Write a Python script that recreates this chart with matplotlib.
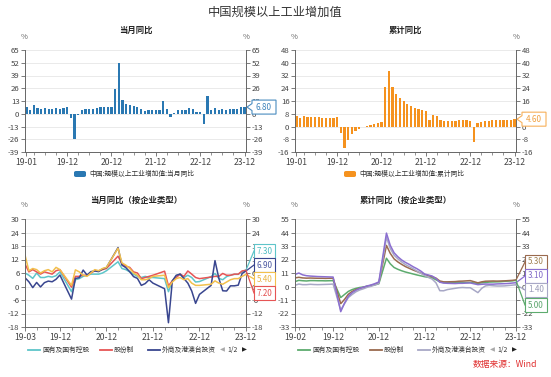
import numpy as np
import pandas as pd
import matplotlib
matplotlib.use('Agg')
import matplotlib.pyplot as plt
from matplotlib.patches import Polygon, Rectangle, FancyBboxPatch
from matplotlib.lines import Line2D

plt.rcParams['font.family'] = ['Noto Sans CJK SC', 'DejaVu Sans']
plt.rcParams['axes.unicode_minus'] = False

W, H = 551, 377

# ---- data: total industry, every month 2019-01 .. 2023-12 ----
bar_months = pd.date_range('2019-01-01', '2023-12-01', freq='MS')
monthly_yoy = [6.5, 3.4, 8.5, 5.4, 5.0, 6.3, 4.8, 4.4, 5.8, 4.7, 6.2, 6.9,
               -4.3, -25.9, -1.1, 3.9, 4.4, 4.8, 4.8, 5.6, 6.9, 6.9, 7.0, 7.3,
               25.0, 52.0, 14.1, 9.8, 8.8, 8.3, 6.4, 5.3, 3.1, 3.5, 3.8, 4.3,
               3.8, 12.8, 5.0, -2.9, 0.7, 3.9, 3.8, 4.2, 6.3, 5.0, 2.2, 1.3,
               -10.0, 18.0, 3.9, 5.6, 3.5, 4.4, 3.7, 4.5, 4.5, 4.6, 6.6, 6.8]
cum_yoy = [6.5, 5.3, 6.5, 6.2, 6.0, 6.0, 5.8, 5.6, 5.6, 5.6, 5.6, 5.7,
           -4.3, -13.5, -8.4, -4.9, -2.8, -1.3, -0.4, 0.4, 1.2, 1.8, 2.3, 2.8,
           25.0, 35.1, 24.5, 20.3, 17.8, 15.9, 14.4, 13.1, 11.8, 10.9, 10.1, 9.6,
           3.8, 7.5, 6.5, 4.0, 3.3, 3.4, 3.5, 3.6, 3.9, 4.0, 3.8, 3.6,
           -10.0, 2.4, 3.0, 3.6, 3.6, 3.8, 3.8, 3.9, 4.0, 4.1, 4.3, 4.6]

# ---- data: by enterprise type, monthly (Mar..Dec each year) ----
type_months = [f"{y}-{m:02d}" for y in range(2019, 2024) for m in range(3, 13)]
soe_m = [6.0, 5.0, 3.6, 6.0, 4.0, 4.0, 4.5, 4.2, 4.8, 6.5,
         -2.3, 3.0, 3.5, 4.5, 5.0, 5.5, 5.5, 5.5, 6.0, 7.0,
         11.0, 8.0, 7.5, 6.5, 5.5, 4.5, 4.0, 4.5, 4.0, 4.0,
         3.5, -2.3, 2.5, 4.5, 5.5, 4.0, 5.0, 4.0, 2.0, 2.2,
         4.4, 5.8, 3.6, 3.0, 4.4, 5.0, 5.4, 5.4, 6.6, 7.3]
joint_m = [10.0, 6.5, 7.5, 6.5, 5.5, 6.5, 6.0, 5.5, 7.0, 7.5,
           -0.3, 4.5, 4.5, 5.0, 5.0, 6.0, 7.0, 7.0, 7.5, 8.0,
           13.5, 10.0, 9.0, 8.5, 6.5, 6.0, 3.5, 4.0, 4.5, 5.0,
           6.8, 0.3, 2.5, 4.0, 5.5, 4.5, 6.9, 5.5, 4.0, 3.5,
           4.2, 4.5, 4.5, 5.8, 5.0, 5.0, 5.5, 5.5, 6.9, 7.2]
foreign_m = [3.9, 2.1, -0.5, 1.8, -0.2, 1.7, 2.4, 2.1, 3.2, 5.1,
             -5.6, 3.6, 3.9, 7.3, 5.1, 6.6, 6.9, 6.6, 7.8, 8.4,
             17.3, 9.5, 8.4, 6.6, 4.4, 3.6, 0.5, 1.3, 3.0, 1.5,
             -1.0, -16.1, 2.5, 5.0, 5.5, 3.5, 1.5, -2.0, -7.5, -3.5,
             0.5, 11.5, 3.6, -1.9, -2.0, 0.3, 0.3, 0.6, 5.8, 6.9]
private_m = [14.0, 7.0, 8.0, 7.5, 6.0, 7.0, 7.5, 6.5, 8.5, 7.5,
             0.5, 7.4, 6.5, 5.0, 4.5, 6.0, 7.5, 7.0, 8.0, 8.5,
             17.0, 10.5, 9.5, 8.0, 6.0, 5.0, 3.0, 3.0, 3.5, 4.5,
             5.0, -0.5, 2.0, 3.5, 4.0, 3.0, 3.5, 1.5, 0.5, 0.5,
             1.0, 2.5, 1.5, 1.0, 2.0, 3.0, 3.5, 3.5, 4.5, 5.4]

# ---- data: by enterprise type, cumulative (Feb..Dec each year) ----
cum_months = [f"{y}-{m:02d}" for y in range(2019, 2024) for m in range(2, 13)]
soe_c = [4.0, 5.0, 4.7, 4.5, 4.8, 4.8, 4.7, 4.7, 4.6, 4.7, 4.8,
         -9.0, -6.5, -4.0, -2.5, -1.5, -0.8, -0.4, 0.3, 0.8, 1.4, 2.2,
         23.0, 18.5, 15.5, 14.0, 12.8, 11.8, 11.0, 10.2, 9.4, 8.7, 8.0,
         7.0, 5.5, 3.8, 3.2, 3.2, 3.2, 3.2, 3.4, 3.3, 3.2, 3.3,
         2.5, 3.0, 3.3, 3.6, 3.7, 3.8, 3.9, 4.2, 4.4, 4.6, 5.0]
joint_c = [7.0, 7.5, 7.0, 6.8, 6.9, 6.8, 6.7, 6.7, 6.6, 6.7, 6.8,
           -14.0, -10.5, -6.3, -4.0, -2.5, -1.5, -0.7, 0.2, 0.9, 1.7, 3.0,
           33.5, 27.0, 22.5, 20.0, 18.0, 16.2, 14.8, 13.4, 12.2, 11.0, 9.8,
           8.0, 6.8, 4.5, 3.8, 3.8, 3.9, 4.0, 4.3, 4.4, 4.6, 4.8,
           3.0, 3.8, 4.3, 4.4, 4.5, 4.4, 4.5, 4.6, 4.8, 5.0, 5.3]
foreign_c = [1.0, 2.0, 1.5, 1.5, 1.8, 1.6, 1.5, 1.6, 1.7, 1.8, 2.0,
             -19.0, -14.0, -9.0, -6.5, -4.3, -2.8, -1.8, -0.6, 0.2, 1.3, 2.4,
             40.0, 31.0, 25.5, 22.5, 20.0, 17.8, 16.2, 14.5, 12.6, 10.8, 8.9,
             6.0, 3.0, -3.4, -3.5, -2.5, -2.0, -1.5, -1.0, -0.8, -1.0, -1.0,
             -5.0, -1.5, 0.5, 0.9, 0.6, 0.4, 0.4, 0.5, 0.8, 1.1, 1.4]
private_c = [9.8, 11.0, 9.5, 8.8, 8.5, 8.3, 8.1, 8.0, 7.9, 7.8, 7.7,
             -20.5, -13.5, -8.0, -5.0, -3.0, -1.5, -0.5, 0.5, 1.3, 2.4, 3.7,
             43.5, 33.5, 27.5, 24.2, 21.6, 19.6, 18.0, 16.1, 14.5, 12.6, 10.2,
             8.5, 6.5, 3.5, 2.8, 2.6, 2.5, 2.4, 2.6, 2.6, 2.8, 2.9,
             1.5, 1.8, 2.0, 1.9, 1.9, 2.1, 2.2, 2.3, 2.5, 2.8, 3.1]

type_names = ['国有及国有控股', '股份制', '外商及港澳台投资', '私营企业']


def month_index(labels, start):
    s = pd.Timestamp(start)
    return np.array([(pd.Timestamp(m).year - s.year) * 12 + pd.Timestamp(m).month - s.month
                     for m in labels])


fig = plt.figure(figsize=(W / 100, H / 100), dpi=100)


def fx(x):
    return x / W


def fy(y):
    return 1 - y / H


def make_ax(x0, y0, x1, y1):
    return fig.add_axes([fx(x0), fy(y1), (x1 - x0) / W, (y1 - y0) / H])


def style(ax, ylim, ystep, xlim, xticks, xlabels, minor):
    ax.set_xlim(*xlim)
    ax.set_ylim(*ylim)
    ax.set_yticks(np.arange(ylim[0], ylim[1] + 1, ystep))
    ax.set_xticks(xticks)
    ax.set_xticklabels(xlabels)
    ax.set_xticks(minor, minor=True)
    ax.tick_params(axis='y', left=True, right=True, labelleft=True, labelright=True,
                   direction='out', length=3, width=0.6, color='#666',
                   labelcolor='#444', labelsize=5.6, pad=1)
    ax.tick_params(axis='x', which='major', length=3, width=0.6, color='#666',
                   labelcolor='#444', labelsize=6.2, pad=1)
    ax.tick_params(axis='x', which='minor', length=2, width=0.5, color='#666')
    ax.grid(axis='y', color='#e6e6e6', lw=0.6)
    ax.set_axisbelow(True)
    ax.spines['top'].set_visible(False)
    for s in ['left', 'right', 'bottom']:
        ax.spines[s].set_color('#666')
        ax.spines[s].set_linewidth(0.7)


def pct_marks(x0, x1, y):
    fig.text(fx(x0), fy(y), '%', fontsize=5.5, color='#666', ha='center', va='center')
    fig.text(fx(x1), fy(y), '%', fontsize=5.5, color='#666', ha='center', va='center')


def to_px(ax, x, y):
    dx, dy = ax.transData.transform((x, y))
    return dx, H - dy


def tag(ax, xlast, value, x0, color, tcolor):
    _, yc = to_px(ax, xlast, value)
    pts = [(x0, yc), (x0 + 5, yc - 3.5), (x0 + 5, yc - 7), (x0 + 29, yc - 7),
           (x0 + 29, yc + 7), (x0 + 5, yc + 7), (x0 + 5, yc + 3.5)]
    fig.add_artist(Polygon([(fx(a), fy(b)) for a, b in pts], closed=True,
                           transform=fig.transFigure, fc='white', ec=color, lw=0.8))
    fig.text(fx(x0 + 17), fy(yc), f'{value:.2f}', fontsize=5.8, color=tcolor,
             ha='center', va='center')


def end_boxes(ax, series, xlast, bx0, bx1, centers):
    for (vals, col, tcol), yc in zip(series, centers):
        ex, ey = to_px(ax, xlast, vals[-1])
        fig.add_artist(Line2D([fx(ex), fx(bx0)], [fy(ey), fy(yc)],
                              transform=fig.transFigure, color=col, lw=0.9))
        fig.add_artist(Rectangle((fx(bx0), fy(yc + 7)), (bx1 - bx0) / W, 14 / H,
                                 transform=fig.transFigure, fc='white', ec=col, lw=0.8))
        fig.text(fx((bx0 + bx1) / 2), fy(yc), f'{vals[-1]:.2f}', fontsize=5.8,
                 color=tcol, ha='center', va='center')


# ---- titles ----
fig.text(0.5, fy(12), '中国规模以上工业增加值', fontsize=8.8, color='#333',
         ha='center', va='center')
sub = dict(fontsize=6, color='#222', ha='center', va='center', fontweight='bold')
fig.text(fx(136), fy(30), '当月同比', **sub)
fig.text(fx(406), fy(30), '累计同比', **sub)
fig.text(fx(136), fy(200), '当月同比（按企业类型）', **sub)
fig.text(fx(406), fy(200), '累计同比（按企业类型）', **sub)

# ---- top-left: monthly bars ----
xi = np.arange(len(bar_months))
top_ticks = [0, 11, 23, 35, 47, 59]
top_labels = ['19-01', '19-12', '20-12', '21-12', '22-12', '23-12']
ax1 = make_ax(25, 50, 246, 152)
ax1.bar(xi, monthly_yoy, width=0.62, color='#2a78b2')
style(ax1, (-39, 65), 13, (-0.4, 59.4), top_ticks, top_labels, np.arange(2, 60, 3))
pct_marks(24, 246, 37)

ax2 = make_ax(295, 50, 516, 152)
ax2.bar(xi, cum_yoy, width=0.62, color='#f5921e')
style(ax2, (-16, 48), 8, (-0.4, 59.4), top_ticks, top_labels, np.arange(2, 60, 3))
pct_marks(294, 516, 37)

# ---- bottom-left: monthly by type ----
bl_x = month_index(type_months, '2019-03')
ax3 = make_ax(25, 219, 246, 327)
bl_cols = ['#5ec5c9', '#e65555', '#39468f', '#f2c04d']
for vals, col in zip([soe_m, joint_m, foreign_m, private_m], bl_cols):
    ax3.plot(bl_x, vals, color=col, lw=1.1)
style(ax3, (-18, 30), 6, (0, 57), [0, 9, 21, 33, 45, 57],
      ['19-03', '19-12', '20-12', '21-12', '22-12', '23-12'], np.arange(0, 58, 3))
pct_marks(24, 246, 205)

# ---- bottom-right: cumulative by type ----
br_x = month_index(cum_months, '2019-02')
ax4 = make_ax(295, 219, 516, 327)
br_cols = ['#5dab6e', '#9a6a4e', '#a8a8c6', '#8b6fd0']
for vals, col in zip([soe_c, joint_c, foreign_c, private_c], br_cols):
    ax4.plot(br_x, vals, color=col, lw=1.1)
style(ax4, (-33, 55), 11, (0, 58), [0, 10, 22, 34, 46, 58],
      ['19-02', '19-12', '20-12', '21-12', '22-12', '23-12'], np.arange(1, 59, 3))
pct_marks(294, 516, 205)

# ---- end labels ----
tag(ax1, 59, monthly_yoy[-1], 247, '#4a8cc0', '#3f84bb')
tag(ax2, 59, cum_yoy[-1], 517, '#f7b05a', '#f0a040')
end_boxes(ax3, [(soe_m, bl_cols[0], '#4dbcc0'), (foreign_m, bl_cols[2], '#4a56a0'),
                (private_m, bl_cols[3], '#eab545'), (joint_m, bl_cols[1], '#e45050')],
          57, 254, 275, [251, 265, 279, 293])
end_boxes(ax4, [(joint_c, br_cols[1], '#a08050'), (private_c, br_cols[3], '#8068c8'),
                (foreign_c, br_cols[2], '#9a9ab8'), (soe_c, br_cols[0], '#5aa46b')],
          58, 525, 547, [262, 276, 290, 305])

# ---- legends ----
leg = dict(fontsize=4.9, color='#333', ha='left', va='center')
for x0, col, name in [(74, '#2a78b2', '中国:规模以上工业增加值:当月同比'),
                      (344, '#f5921e', '中国:规模以上工业增加值:累计同比')]:
    fig.add_artist(FancyBboxPatch((fx(x0), fy(177)), 12 / W, 6 / H,
                                  boxstyle='round,pad=0,rounding_size=0.004',
                                  transform=fig.transFigure, fc=col, ec='none'))
    fig.text(fx(x0 + 15), fy(174), name, **leg)

for off, cols in [(0, bl_cols), (270, br_cols)]:
    for (x0, name), col in zip([(28, type_names[0]), (100, type_names[1]),
                                (148, type_names[2])], cols[:3]):
        fig.add_artist(Line2D([fx(off + x0), fx(off + x0 + 12)], [fy(350), fy(350)],
                              transform=fig.transFigure, color=col, lw=1.3))
        fig.text(fx(off + x0 + 14), fy(350), name, **leg)
    fig.text(fx(off + 222), fy(350), '◀', fontsize=4.6, color='#aaa', ha='center',
             va='center', family=['DejaVu Sans'])
    fig.text(fx(off + 233), fy(350), '1/2', fontsize=4.9, color='#333', ha='center',
             va='center')
    fig.text(fx(off + 244), fy(350), '▶', fontsize=4.6, color='#222', ha='center',
             va='center', family=['DejaVu Sans'])

fig.text(fx(537), fy(365), '数据来源：Wind', fontsize=6.3, color='#e03030',
         ha='right', va='center')

fig.savefig('out.png', dpi=100)
